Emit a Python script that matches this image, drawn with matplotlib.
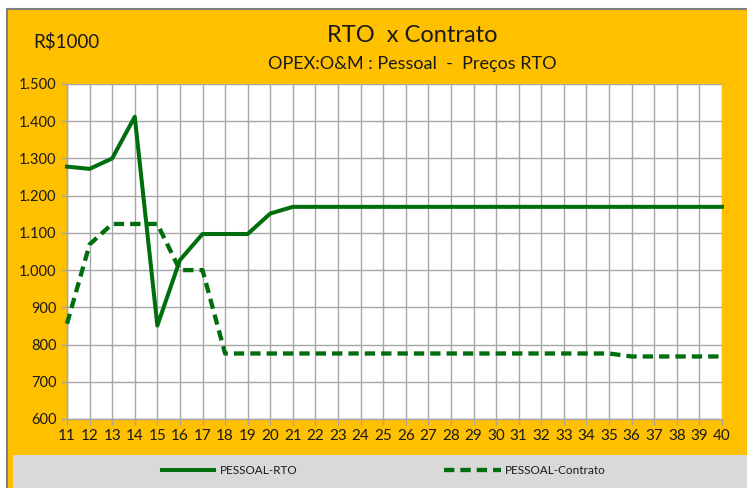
import matplotlib
matplotlib.use("Agg")
import matplotlib.pyplot as plt
from matplotlib.patches import Rectangle
from matplotlib.lines import Line2D

plt.rcParams['font.family'] = ['Lato', 'DejaVu Sans']

years = list(range(11, 41))
rto = [1278, 1272, 1300, 1412, 851, 1027, 1097, 1097, 1097, 1152] + [1170] * 20
contrato = [856, 1069, 1124, 1124, 1124, 1000, 1000, 776] + [776] * 17 + [768] * 5
y_ticks = [600, 700, 800, 900, 1000, 1100, 1200, 1300, 1400, 1500]
y_labels = ["600", "700", "800", "900", "1.000", "1.100", "1.200", "1.300", "1.400", "1.500"]

W, H = 747, 488
fig = plt.figure(figsize=(W / 100, H / 100), dpi=100)
fig.patch.set_facecolor('white')

orange = '#FFC000'
green = '#006E0C'
LW = 2.9
DASH = (2.4, 1.4)

# background panel
fig.patches.append(Rectangle((7 / W, 0), 1 - 7 / W, 1 - 9 / H, transform=fig.transFigure,
                             facecolor=orange, edgecolor='none', zorder=-2))
fig.add_artist(Line2D([7 / W, 7 / W], [0, 1 - 9 / H], transform=fig.transFigure, color='#7F7F7F', lw=1.5, zorder=-1))
fig.add_artist(Line2D([7 / W, 1], [1 - 9 / H, 1 - 9 / H], transform=fig.transFigure, color='#7F7F7F', lw=1.5, zorder=-1))
# legend band
fig.patches.append(Rectangle((13 / W, 0), 1 - 13 / W, 33 / H, transform=fig.transFigure,
                             facecolor='#D9D9D9', edgecolor='none', zorder=-1))

ax = fig.add_axes([67 / W, (H - 419) / H, (722 - 67) / W, (419 - 84) / H])
ax.set_zorder(5)
ax.set_facecolor('white')
ax.plot(years, rto, color=green, lw=LW, solid_joinstyle='round', zorder=3, clip_on=False)
ax.plot(years, contrato, color=green, lw=LW + 0.2, dashes=DASH, zorder=3, clip_on=False)

ax.set_xlim(11, 40)
ax.set_ylim(600, 1500)
ax.set_xticks(years)
ax.set_xticklabels([str(y) for y in years], fontsize=11)
ax.set_yticks(y_ticks)
ax.set_yticklabels(y_labels, fontsize=10.5)
ax.grid(True, color='#A6A6A6', lw=1.0, zorder=1)
ax.set_axisbelow(True)
for s in ['top', 'right']:
    ax.spines[s].set_visible(False)
for s in ['left', 'bottom']:
    ax.spines[s].set_color('#A6A6A6')
    ax.spines[s].set_linewidth(1.0)
ax.tick_params(axis='both', colors='#A6A6A6', labelcolor='#1a1a1a', length=4, width=1.0)
ax.tick_params(axis='x', pad=3)

fig.text(412 / W, 1 - 35 / H, 'RTO  x Contrato', ha='center', va='center', fontsize=17, color='#1a1a1a')
fig.text(412 / W, 1 - 64 / H, 'OPEX:O&M : Pessoal  -  Preços RTO', ha='center', va='center', fontsize=13, color='#1a1a1a')
fig.text(33 / W, 1 - 42 / H, 'R$1000', ha='left', va='center', fontsize=13.5, color='#1a1a1a')

# legend
ly = 1 - 470 / H
fig.add_artist(Line2D([162 / W, 214 / W], [ly, ly], transform=fig.transFigure, color=green, lw=LW))
fig.text(220 / W, ly, 'PESSOAL-RTO', ha='left', va='center', fontsize=8.5, color='#1a1a1a')
fig.add_artist(Line2D([444 / W, 501 / W], [ly, ly], transform=fig.transFigure, color=green, lw=LW + 0.2, dashes=DASH))
fig.text(505 / W, ly, 'PESSOAL-Contrato', ha='left', va='center', fontsize=8.5, color='#1a1a1a')

fig.savefig('out.png', dpi=100, facecolor=fig.get_facecolor())
